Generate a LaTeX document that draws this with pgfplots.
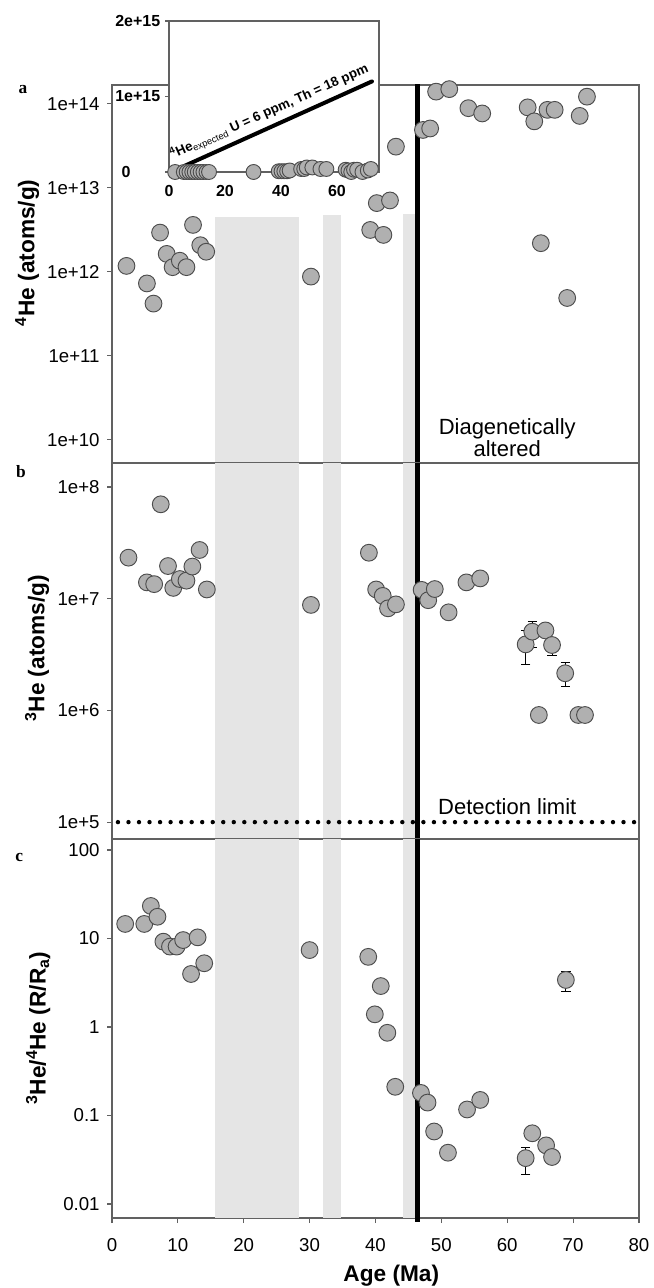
\documentclass[border=0pt]{standalone}
\usepackage{fontspec}
\setmainfont{Liberation Sans}
\newfontfamily\serifb{Liberation Serif}
\usepackage{pgfplots}
\pgfplotsset{compat=1.18}
\usepackage{pgfplotstable}

\definecolor{bandgray}{gray}{0.9}
\definecolor{markgray}{gray}{0.69}
\definecolor{axgray}{gray}{0.38}

% panel a: 4He (atoms/g)
\pgfplotstableread{
x y
2.2 1.18e12
5.3 7.3e11
6.3 4.2e11
7.3 2.94e12
8.3 1.64e12
9.2 1.14e12
10.3 1.36e12
11.3 1.14e12
12.3 3.63e12
13.4 2.08e12
14.3 1.74e12
30.2 8.8e11
39.2 3.16e12
40.2 6.6e12
41.2 2.76e12
42.2 7.1e12
43.1 3.1e13
47.2 4.9e13
48.3 5.1e13
49.2 1.4e14
51.2 1.5e14
54.1 8.9e13
56.2 7.7e13
63.1 9.1e13
64.1 6.2e13
65.1 2.2e12
66.1 8.5e13
67.2 8.5e13
69.1 4.9e11
71.0 7.2e13
72.1 1.22e14
}\dataA

% inset: 4He on a linear axis
\pgfplotstableread{
x y
2.2 0
5.3 0
6.3 0
7.3 0
8.3 0
9.2 0
10.3 0
11.3 0
12.3 0
13.4 0
14.3 0
30.2 0
39.2 0.01e15
40.2 0.01e15
41.2 0.01e15
42.2 0.01e15
43.1 0.02e15
47.2 0.04e15
48.3 0.04e15
49.2 0.06e15
51.2 0.06e15
54.1 0.04e15
56.2 0.04e15
63.1 0.03e15
64.1 0.02e15
65.1 0
66.1 0.03e15
67.2 0.03e15
69.1 0
71.0 0.02e15
72.1 0.04e15
}\dataI

% panel b: 3He (atoms/g)
\pgfplotstableread{
x y
2.5 2.33e7
5.3 1.40e7
6.4 1.35e7
7.4 7.0e7
8.5 1.96e7
9.3 1.25e7
10.3 1.50e7
11.3 1.45e7
12.2 1.94e7
13.3 2.73e7
14.4 1.21e7
30.2 8.8e6
39.0 2.58e7
40.1 1.21e7
41.1 1.06e7
41.9 8.2e6
43.1 8.9e6
47.0 1.20e7
48.0 9.7e6
49.0 1.22e7
51.1 7.55e6
53.8 1.40e7
55.9 1.52e7
62.8 3.9e6
63.8 5.07e6
65.8 5.2e6
66.8 3.85e6
68.8 2.15e6
64.8 9.1e5
70.8 9.1e5
71.8 9.1e5
}\dataB

\pgfplotstableread{
x y ep em
62.8 3.9e6 1.35e6 1.31e6
63.8 5.07e6 1.23e6 1.37e6
65.8 5.2e6 0.4e6 0.4e6
66.8 3.85e6 0.5e6 0.72e6
68.8 2.15e6 0.52e6 0.5e6
}\errB

% panel c: 3He/4He (R/Ra)
\pgfplotstableread{
x y
2.0 14.6
4.9 14.6
5.9 23.3
6.9 17.6
7.8 9.2
8.8 8.1
9.8 8.1
10.8 9.6
12.0 3.97
13.0 10.3
14.0 5.25
30.0 7.4
38.9 6.2
39.9 1.39
40.8 2.9
41.8 0.86
43.0 0.211
46.9 0.18
47.9 0.14
48.9 0.066
51.0 0.038
53.9 0.117
55.9 0.15
62.8 0.033
63.8 0.063
65.9 0.046
66.8 0.034
68.9 3.4
}\dataC

\pgfplotstableread{
x y ep em
62.8 0.033 0.0107 0.0113
68.9 3.4 0.8 0.9
}\errC

\begin{document}
\begin{tikzpicture}
\useasboundingbox (0pt,0pt) rectangle (489.75pt,-966pt);

% ---------------- panel a ----------------
\begin{axis}[at={(84pt,-63.75pt)}, anchor=north west,
  scale only axis, width=395.25pt, height=283.5pt,
  xmin=0, xmax=80, ymode=log, ymin=5.32e9, ymax=1.68e14,
  clip=false, tick pos=left, tick align=outside,
  yminorticks=false,
  axis line style={axgray, line width=0.8pt},
  major tick length=3.75pt,
  tick style={axgray, line width=0.8pt},
  tick label style={font=\fontsize{14}{16}\selectfont},
  yticklabel style={xshift=-2pt},
  xtick=\empty,
  ytick={1e10,1e11,1e12,1e13,1e14},
  yticklabels={1e+10,1e+11,1e+12,1e+13,1e+14},
  ylabel={\textsuperscript{4}He (atoms/g)},
  ylabel style={font=\bfseries\fontsize{17}{20}\selectfont, at={(axis description cs:-0.161,0.556)}, anchor=center}]
\fill[bandgray] (axis cs:15.6,5.32e9) rectangle (axis cs:28.4,4.5e12);
\fill[bandgray] (axis cs:32.0,5.32e9) rectangle (axis cs:34.7,4.8e12);
\fill[bandgray] (axis cs:44.1,5.32e9) rectangle (axis cs:46.3,4.9e12);
\draw[line width=3.75pt] (axis cs:46.35,5.32e9) -- (axis cs:46.35,1.75e14);
\addplot[only marks, mark=*, mark size=6.3pt, mark options={fill=markgray, draw=black!70, line width=0.7pt}] table {\dataA};
\node[font=\fontsize{16.5}{16}\selectfont, align=center] at (axis cs:60,1.07e10) {Diagenetically\\altered};
\node[font=\serifb\bfseries\fontsize{13}{15}\selectfont] at (rel axis cs:-0.169,0.989) {a};
\end{axis}

% ---------------- panel b ----------------
\begin{axis}[at={(84pt,-347.25pt)}, anchor=north west,
  scale only axis, width=395.25pt, height=282pt,
  xmin=0, xmax=80, ymode=log, ymin=7.06e4, ymax=1.64e8,
  clip=false, tick pos=left, tick align=outside,
  yminorticks=false,
  axis line style={axgray, line width=0.8pt},
  major tick length=3.75pt,
  tick style={axgray, line width=0.8pt},
  tick label style={font=\fontsize{14}{16}\selectfont},
  yticklabel style={xshift=-2pt},
  xtick=\empty,
  ytick={1e5,1e6,1e7,1e8},
  yticklabels={1e+5,1e+6,1e+7,1e+8},
  ylabel={\textsuperscript{3}He (atoms/g)},
  ylabel style={font=\bfseries\fontsize{17}{20}\selectfont, at={(axis description cs:-0.142,0.507)}, anchor=center}]
\fill[bandgray] (axis cs:15.6,7.06e4) rectangle (axis cs:28.4,1.64e8);
\fill[bandgray] (axis cs:32.0,7.06e4) rectangle (axis cs:34.7,1.64e8);
\fill[bandgray] (axis cs:44.1,7.06e4) rectangle (axis cs:46.3,1.64e8);
\draw[line width=3.75pt] (axis cs:46.35,7.06e4) -- (axis cs:46.35,1.64e8);
\draw[line width=3.3pt, line cap=round, dash pattern=on 0pt off 7.9pt] (axis cs:0.9,1e5) -- (axis cs:80,1e5);
\addplot[forget plot, only marks, mark=none,
  error bars/.cd, y dir=both, y explicit, error mark=-,
  error mark options={rotate=90, black, mark size=3.5pt, line width=0.6pt},
  error bar style={black, line width=0.6pt}]
  table[x=x, y=y, y error plus=ep, y error minus=em] {\errB};
\addplot[only marks, mark=*, mark size=6.3pt, mark options={fill=markgray, draw=black!70, line width=0.7pt}] table {\dataB};
\node[font=\fontsize{16.5}{16}\selectfont] at (axis cs:60,1.39e5) {Detection limit};
\node[font=\serifb\bfseries\fontsize{13}{15}\selectfont] at (rel axis cs:-0.173,0.976) {b};
\end{axis}

% ---------------- panel c ----------------
\begin{axis}[at={(84pt,-629.25pt)}, anchor=north west,
  scale only axis, width=395.25pt, height=284.25pt,
  xmin=0, xmax=80, ymode=log, ymin=6.95e-3, ymax=133,
  clip=false, tick pos=left, tick align=outside,
  yminorticks=false,
  axis line style={axgray, line width=0.8pt},
  major tick length=3.75pt,
  tick style={axgray, line width=0.8pt},
  tick label style={font=\fontsize{14}{16}\selectfont},
  yticklabel style={xshift=-2pt},
  xtick={0,10,20,30,40,50,60,70,80},
  xticklabels={0,10,20,30,40,50,60,70,80},
  xticklabel style={yshift=-8pt},
  ytick={0.01,0.1,1,10,100},
  yticklabels={0.01,0.1,1,10,100},
  ylabel={\textsuperscript{3}He/\textsuperscript{4}He (R/R\textsubscript{a})},
  ylabel style={font=\bfseries\fontsize{17}{20}\selectfont, at={(axis description cs:-0.140,0.501)}, anchor=center},
  xlabel={Age (Ma)},
  xlabel style={font=\bfseries\fontsize{17}{20}\selectfont, at={(axis description cs:0.530,-0.153)}, anchor=center}]
\fill[bandgray] (axis cs:15.6,6.95e-3) rectangle (axis cs:28.4,133);
\fill[bandgray] (axis cs:32.0,6.95e-3) rectangle (axis cs:34.7,133);
\fill[bandgray] (axis cs:44.1,6.95e-3) rectangle (axis cs:46.3,133);
\draw[line width=3.75pt] (axis cs:46.35,6.3e-3) -- (axis cs:46.35,133);
\addplot[forget plot, only marks, mark=none,
  error bars/.cd, y dir=both, y explicit, error mark=-,
  error mark options={rotate=90, black, mark size=3.5pt, line width=0.6pt},
  error bar style={black, line width=0.6pt}]
  table[x=x, y=y, y error plus=ep, y error minus=em] {\errC};
\addplot[only marks, mark=*, mark size=6.3pt, mark options={fill=markgray, draw=black!70, line width=0.7pt}] table {\dataC};
\node[font=\serifb\bfseries\fontsize{13}{15}\selectfont] at (rel axis cs:-0.176,0.9525) {c};
\end{axis}

% ---------------- inset ----------------
\begin{axis}[at={(126.75pt,-15.75pt)}, anchor=north west,
  scale only axis, width=157.5pt, height=113.25pt,
  xmin=0, xmax=75, ymin=0, ymax=2e15, clip=false,
  axis background/.style={fill=white},
  scaled y ticks=false, scaled x ticks=false,
  xtick={0,20,40,60}, xticklabels={0,20,40,60},
  ytick={0,1e15,2e15},
  yticklabels={\makebox[29pt][l]{0},1e+15,2e+15},
  tick pos=left, tick align=outside, major tick length=3pt,
  axis line style={axgray, line width=0.8pt},
  tick style={axgray, line width=0.8pt},
  x tick style={draw=none},
  tick label style={font=\bfseries\fontsize{12}{14}\selectfont},
  xticklabel style={yshift=-3.5pt}]
\addplot[black, line width=3pt, line cap=round] coordinates {(5.5,0.08e15) (72.5,1.2e15)};
\addplot[only marks, mark=*, mark size=5.6pt, mark options={fill=markgray, draw=black!70, line width=0.7pt}] table {\dataI};
\node[anchor=base west, rotate=24, inner sep=0pt, font=\bfseries\fontsize{10}{12}\selectfont]
  at (axis cs:1.3,0.17e15) {\textsuperscript{4}He\textsubscript{\mdseries expected} U = 6 ppm, Th = 18 ppm};
\end{axis}
\end{tikzpicture}
\end{document}
